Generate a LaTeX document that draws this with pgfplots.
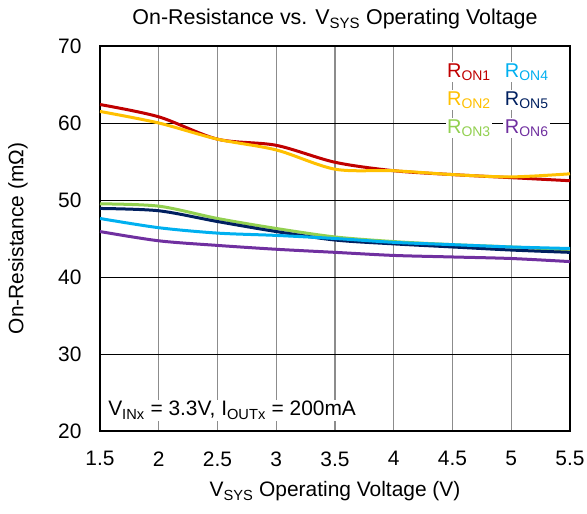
\documentclass[border=0pt]{standalone}
\usepackage{pgfplots}
\pgfplotsset{compat=1.18}
\usepackage{fontspec}
\setmainfont{Liberation Sans}
\definecolor{c1}{HTML}{C00000}
\definecolor{c2}{HTML}{FFC000}
\definecolor{c3}{HTML}{92D050}
\definecolor{c4}{HTML}{00B0F0}
\definecolor{c5}{HTML}{002060}
\definecolor{c6}{HTML}{7030A0}
\newcommand{\sub}[1]{\textsubscript{#1}}
\begin{document}
\begin{tikzpicture}
\begin{axis}[
  scale only axis,
  width=470bp, height=385bp,
  xmin=1.5, xmax=5.5, ymin=20, ymax=70,
  xtick={1.5,2,...,5.5},
  ytick={20,30,...,70},
  xticklabels={1.5,2,2.5,3,3.5,4,4.5,5,5.5},
  major tick length=0pt,
  axis line style={black, line width=1.6bp},
  grid=major,
  x grid style={gray!90, line width=1.1bp},
  y grid style={black, line width=0.9bp},
  /pgf/number format/assume math mode=true,
  tick label style={font=\fontsize{21}{25}\selectfont},
  xticklabel style={yshift=-17bp},
  yticklabel style={xshift=-15bp},
  every axis plot/.append style={line width=3bp, smooth, no markers},
  clip mode=individual,
]
\addplot[c1] coordinates {(1.5,62.4) (2,60.8) (2.5,57.9) (3,57.1) (3.5,54.9) (4,53.8) (4.5,53.3) (5,52.9) (5.5,52.5)};
\addplot[c2] coordinates {(1.5,61.5) (2,60.0) (2.5,57.9) (3,56.5) (3.5,54.0) (4,53.8) (4.5,53.3) (5,53.0) (5.5,53.4)};
\addplot[c3] coordinates {(1.5,49.5) (2,49.2) (2.5,47.6) (3,46.3) (3.5,45.2) (4,44.6) (4.5,44.2) (5,43.9) (5.5,43.5)};
\addplot[c5] coordinates {(1.5,48.9) (2,48.6) (2.5,47.2) (3,45.9) (3.5,44.8) (4,44.3) (4.5,43.9) (5,43.5) (5.5,43.2)};
\addplot[c4] coordinates {(1.5,47.6) (2,46.4) (2.5,45.7) (3,45.4) (3.5,45.0) (4,44.5) (4.5,44.2) (5,43.9) (5.5,43.7)};
\addplot[c6] coordinates {(1.5,45.9) (2,44.7) (2.5,44.1) (3,43.6) (3.5,43.2) (4,42.8) (4.5,42.6) (5,42.4) (5.5,42.0)};
\begin{scope}[every node/.style={font=\fontsize{20}{24}\selectfont, fill=white, inner sep=1.5bp, anchor=base west}]
\node[text=c1] at (rel axis cs:0.735,0.9177) {R\sub{ON1}};
\node[text=c2] at (rel axis cs:0.735,0.8455) {R\sub{ON2}};
\node[text=c3] at (rel axis cs:0.735,0.774) {R\sub{ON3}};
\node[text=c4] at (rel axis cs:0.858,0.9177) {R\sub{ON4}};
\node[text=c5] at (rel axis cs:0.858,0.8455) {R\sub{ON5}};
\node[text=c6] at (rel axis cs:0.858,0.774) {R\sub{ON6}};
\node[font=\fontsize{21}{25}\selectfont] at (rel axis cs:0.014,0.039) {V\sub{INx} = 3.3V, I\sub{OUTx} = 200mA};
\end{scope}
\node[font=\fontsize{21.5}{25}\selectfont, anchor=base] at ([yshift=21bp]rel axis cs:0.5,1) {On-Resistance vs. V\sub{SYS} Operating Voltage};
\node[font=\fontsize{21}{25}\selectfont, anchor=base] at ([yshift=-66bp]rel axis cs:0.5,0) {V\sub{SYS} Operating Voltage (V)};
\node[font=\fontsize{21}{25}\selectfont, rotate=90, anchor=center] at ([xshift=-82bp]rel axis cs:0,0.5) {On-Resistance (mΩ)};
\end{axis}
\pgfresetboundingbox
\useasboundingbox ([shift={(-100bp,-83bp)}]current axis.south west) rectangle ([shift={(17bp,46bp)}]current axis.north east);
\end{tikzpicture}
\end{document}
